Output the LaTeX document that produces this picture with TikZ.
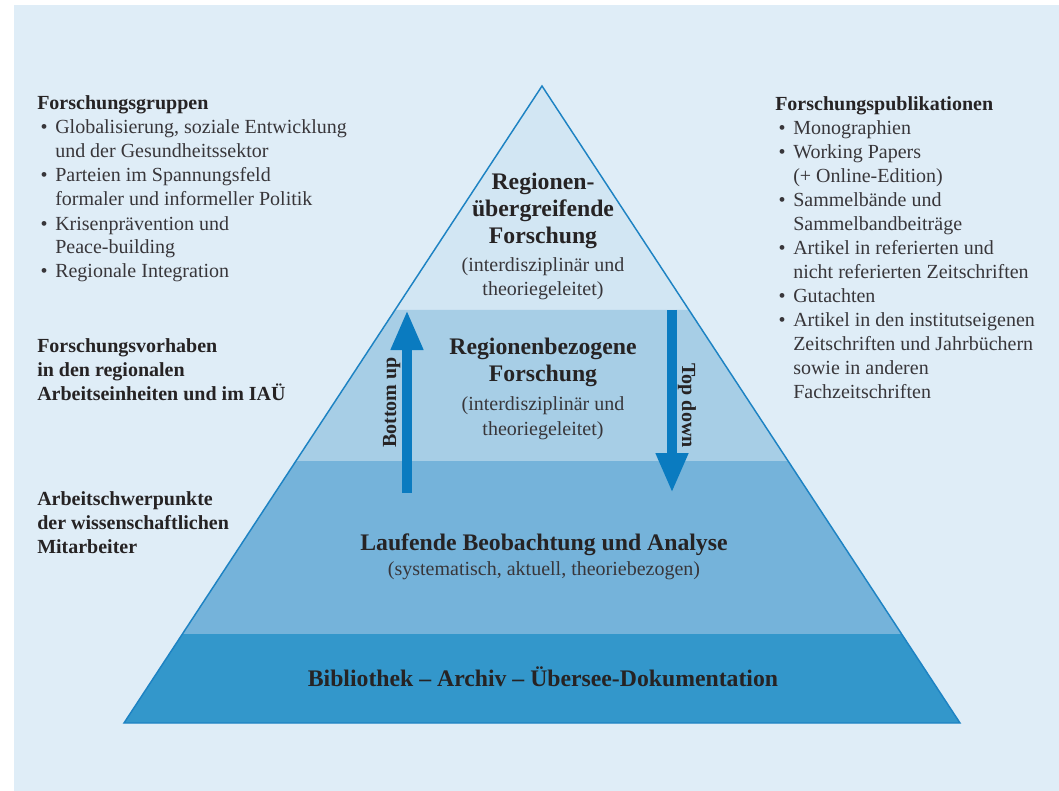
\documentclass[tikz,border=0pt]{standalone}
\usepackage{fontspec}
\usepackage{graphicx}
\setmainfont{Liberation Serif}
\usetikzlibrary{arrows.meta,calc}

\definecolor{bgblue}{HTML}{DFEDF7}
\definecolor{tierone}{HTML}{D2E6F3}
\definecolor{tiertwo}{HTML}{A7CEE6}
\definecolor{tierthree}{HTML}{75B3DA}
\definecolor{tierfour}{HTML}{3397CB}
\definecolor{edgeblue}{HTML}{1E83C3}
\definecolor{arrowblue}{HTML}{0A7BC0}
\definecolor{txt}{HTML}{262324}
\definecolor{txtl}{HTML}{38363A}

\newcommand{\bul}{\makebox[13.5pt][l]{\hspace{2.5pt}\textbullet}}
\newcommand{\ind}{\hspace*{13.5pt}}

\tikzset{
  side/.style={anchor=base west, inner sep=0pt, align=left, text=txtl,
    font=\fontsize{15pt}{18pt}\selectfont},
  sidebold/.style={side, text=txt, font=\bfseries\fontsize{15pt}{18pt}\selectfont},
  title/.style={anchor=base, inner sep=0pt, align=center, text=txt,
    font=\bfseries\fontsize{17.8pt}{20.25pt}\selectfont},
  sub/.style={anchor=base, inner sep=0pt, align=center, text=txtl,
    font=\fontsize{15pt}{18.75pt}\selectfont},
  updown/.style={anchor=base, inner sep=0pt, text=txt,
    font=\bfseries\fontsize{15pt}{18pt}\selectfont},
  bigarrow/.style={draw=arrowblue, line width=7.5pt,
    -{Triangle[width=22.5pt,length=30pt]}},
}

\begin{document}
\begin{tikzpicture}[x=0.75pt,y=-0.75pt]
    \useasboundingbox (0,0) rectangle (1059,791);
    \fill[white] (0,0) rectangle (1059,791);
    \fill[bgblue] (14,5) rectangle (1059,791);

    \coordinate (ap) at (542,86);
    \coordinate (bl) at (124,723);
    \coordinate (br) at (960,723);
    \coordinate (l1) at ($(ap)!0.3516!(bl)$);
    \coordinate (r1) at ($(ap)!0.3516!(br)$);
    \coordinate (l2) at ($(ap)!0.5887!(bl)$);
    \coordinate (r2) at ($(ap)!0.5887!(br)$);
    \coordinate (l3) at ($(ap)!0.8603!(bl)$);
    \coordinate (r3) at ($(ap)!0.8603!(br)$);

    \fill[tierone] (ap) -- (r1) -- (l1) -- cycle;
    \fill[tiertwo] (l1) -- (r1) -- (r2) -- (l2) -- cycle;
    \fill[tierthree] (l2) -- (r2) -- (r3) -- (l3) -- cycle;
    \fill[tierfour] (l3) -- (r3) -- (br) -- (bl) -- cycle;
    \draw[edgeblue, line width=1.1pt, line join=miter] (ap) -- (br) -- (bl) -- cycle;

    \node[title] (a) at (543,243.5) {Regionen-\\übergreifende\\Forschung};
    \node[sub, font=\fontsize{15pt}{18.3pt}\selectfont] (b) at (543,296) {(interdisziplinär und\\theoriegeleitet)};
    \node[title] (c) at (543,381) {Regionenbezogene\\Forschung};
    \node[sub] (d) at (543,435) {(interdisziplinär und\\theoriegeleitet)};
    \node[title] (e) at (544,550) {Laufende Beobachtung und Analyse};
    \node[sub] (f) at (544,575) {(systematisch, aktuell, theoriebezogen)};
    \node[title] (g) at (543,686.5) {Bibliothek – Archiv – Übersee-Dokumentation};

    \coordinate (u0) at (407,493);
    \coordinate (u1) at (407,310);
    \coordinate (d0) at (672,310);
    \coordinate (d1) at (672,493);
    \draw[bigarrow] (u0) to (u1);
    \draw[bigarrow] (d0) to (d1);
    \node[updown, rotate=90] (h) at (396,402.5) {Bottom up};
    \node[updown, rotate=-90] (i) at (682,405.5) {Top down};

    \node[side] (j) at (37,278) {\textbf{\color{txt}Forschungsgruppen}\\
      \bul Globalisierung, soziale Entwicklung\\
      \ind und der Gesundheitssektor\\
      \bul Parteien im Spannungsfeld\\
      \ind formaler und informeller Politik\\
      \bul Krisenprävention und\\
      \ind Peace-building\\
      \bul Regionale Integration};
    \node[sidebold] (k) at (37,400.5) {Forschungsvorhaben\\
      in den regionalen\\
      Arbeitseinheiten und im IAÜ};
    \node[sidebold] (l) at (37,553) {Arbeitschwerpunkte\\
      der wissenschaftlichen\\
      Mitarbeiter};

    \node[side] (m) at (775,398) {\textbf{\color{txt}Forschungspublikationen}\\
      \bul Monographien\\
      \bul Working Papers\\
      \ind (+ Online-Edition)\\
      \bul Sammelbände und\\
      \ind Sammelbandbeiträge\\
      \bul Artikel in referierten und\\
      \ind nicht referierten Zeitschriften\\
      \bul Gutachten\\
      \bul Artikel in den institutseigenen\\
      \ind Zeitschriften und Jahrbüchern\\
      \ind sowie in anderen\\
      \ind Fachzeitschriften};
\end{tikzpicture}
\end{document}
